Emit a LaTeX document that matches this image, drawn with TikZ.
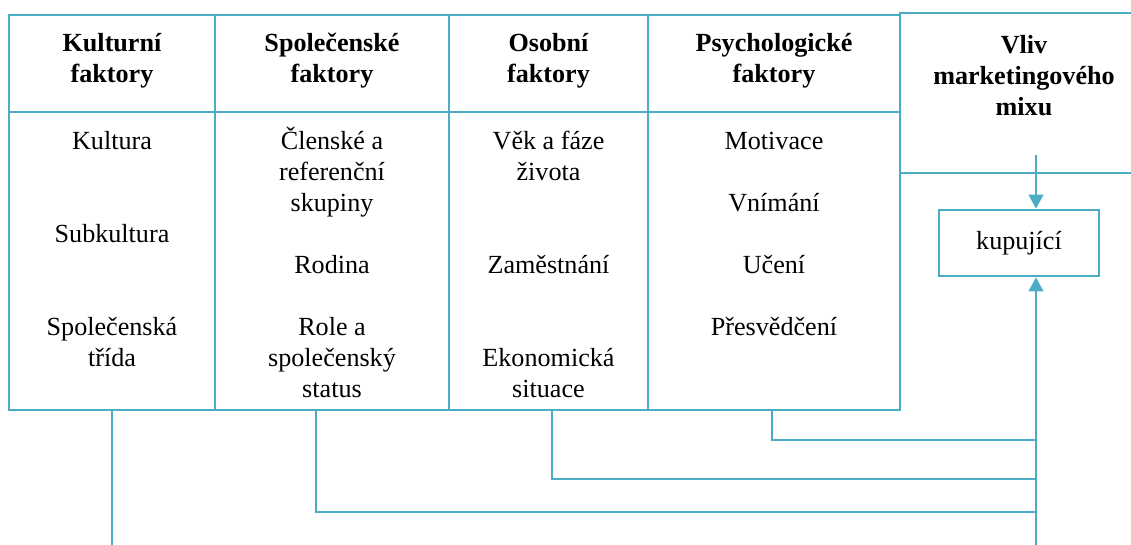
\documentclass[tikz,border=0pt]{standalone}
\usepackage{fontspec}
\setmainfont{Liberation Serif}
\usepackage{tikz}
\usetikzlibrary{arrows.meta,calc,fit}

\definecolor{aqua}{HTML}{4BACC6}
\newcommand\diagfont{\fontsize{19.6pt}{23.25pt}\selectfont}

\tikzset{
  frame/.style={draw=aqua, line width=2pt, inner sep=0pt},
  link/.style={draw=aqua, line width=1.4pt},
  tip/.style={-{Triangle[length=10.5pt,width=11pt]}},
  headtxt/.style={font=\diagfont\bfseries, align=center, anchor=base},
  bodytxt/.style={align=center, anchor=base},
}

\begin{document}
\begin{tikzpicture}[x=0.75pt, y=-0.75pt, every node/.style={font=\diagfont}]
  \clip (0,0) rectangle (1131,544);

  % sloupce faktoru -- hlavicka + telo
  \foreach \n/\xa/\xb/\head in {kul/9/215/{Kulturní\\faktory},
      spo/215/449/{Společenské\\faktory}, oso/449/648/{Osobní\\faktory},
      psy/648/900/{Psychologické\\faktory}} {
    \node[frame, fit={(\xa,15) (\xb,112)}] (\n H) {};
    \node[frame, fit={(\xa,112) (\xb,410)}] (\n B) {};
    \node[headtxt] (\n T) at ($(\n H.north)+(0,69)$) {\head};
  }

  % polozky ve sloupcich (kotva = uaiceni posledniho radku)
  \node[bodytxt] (kulL) at ($(kulB.north)+(0,256)$)
    {Kultura\\[46.5pt]Subkultura\\[46.5pt]Společenská\\třída};
  \node[bodytxt] (spoL) at ($(spoB.north)+(0,287)$)
    {Členské a\\referenční\\skupiny\\[23.25pt]Rodina\\[23.25pt]Role a\\společenský\\status};
  \node[bodytxt] (osoL) at ($(osoB.north)+(0,287)$)
    {Věk a fáze\\života\\[46.5pt]Zaměstnání\\[46.5pt]Ekonomická\\situace};
  \node[bodytxt] (psyL) at ($(psyB.north)+(0,225)$)
    {Motivace\\[23.25pt]Vnímání\\[23.25pt]Učení\\[23.25pt]Přesvědčení};

  % marketingovy mix a kupujici
  \node[frame, fit={(900,13) (1148,173)}] (mix) {};
  \node[headtxt] (mixT) at (1024,115) {Vliv\\marketingového\\mixu};
  \node[frame, minimum width=120pt, minimum height=49.5pt] (kup) at (1019,243) {kupující};

  % spojnice
  \coordinate (mixS) at (1036,155);
  \coordinate (busB) at (1036,550);
  \coordinate (j1) at (1036,440);
  \coordinate (j2) at (1036,479);
  \coordinate (j3) at (1036,512);
  \draw[link,tip] (mixS) -- (mixS |- kup.north);
  \draw[link] (kulB.south) -- (kulB.south |- busB);
  \draw[link] ($(spoB.south)+(-16,0)$) |- (j3);
  \draw[link] ($(osoB.south)+(3.5,0)$) |- (j2);
  \draw[link] ($(psyB.south)+(-2,0)$) |- (j1);
  \draw[link,tip] (busB) -- (busB |- kup.south);
\end{tikzpicture}
\end{document}
